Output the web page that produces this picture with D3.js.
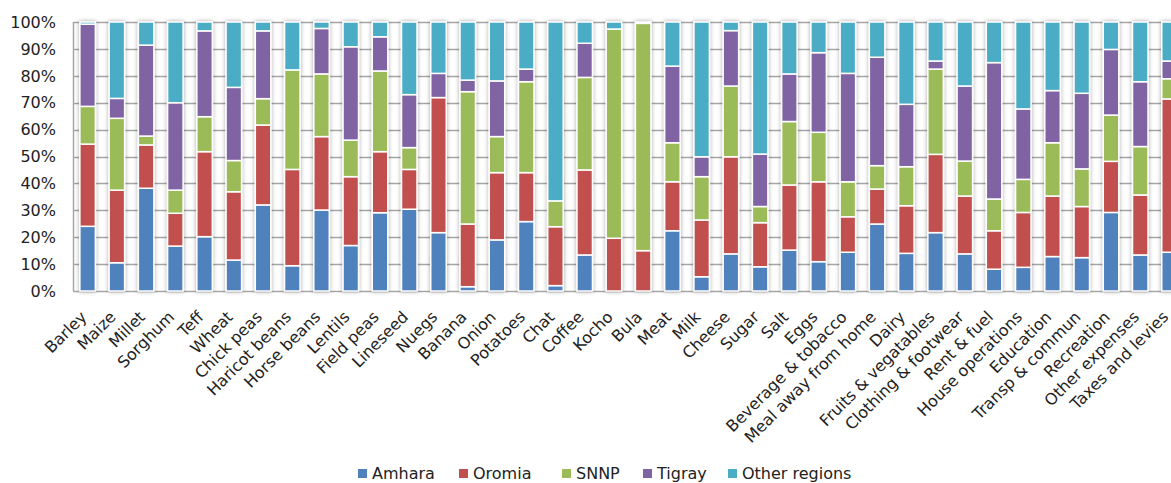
<!DOCTYPE html>
<html>
<head>
<meta charset="utf-8">
<script src="https://cdn.jsdelivr.net/npm/d3@7"></script>
<style>
  body { margin: 0; background: #fff; }
  svg { display: block; font-family: "DejaVu Sans", Verdana, sans-serif; }
</style>
</head>
<body>
<div id="chart"></div>
<script>
var categories = ["Barley", "Maize", "Millet", "Sorghum", "Teff", "Wheat", "Chick peas", "Haricot beans",
  "Horse beans", "Lentils", "Field peas", "Lineseed", "Nuegs", "Banana", "Onion", "Potatoes", "Chat",
  "Coffee", "Kocho", "Bula", "Meat", "Milk", "Cheese", "Sugar", "Salt", "Eggs", "Beverage & tobacco",
  "Meal away from home", "Dairy", "Fruits & vegatables", "Clothing & footwear", "Rent & fuel",
  "House operations", "Education", "Transp & commun", "Recreation", "Other expenses", "Taxes and levies"]

var amhara = [24, 10.5, 38.2, 16.7, 20.2, 11.5, 32, 9.4, 30.1, 16.9, 29.1, 30.4, 21.7, 1.6, 19, 25.8, 2,
  13.4, 0, 0, 22.4, 5.3, 13.8, 9, 15.2, 10.9, 14.4, 24.9, 14, 21.7, 13.8, 8.1, 8.8, 12.8, 12.4, 29.2, 13.4, 14.4]
var oromia = [30.5, 27, 16.1, 12.2, 31.6, 25.4, 29.7, 35.8, 27.3, 25.6, 22.7, 14.8, 50.2, 23.3, 25, 18.2, 21.9,
  31.6, 19.6, 15, 18.2, 21.1, 36.1, 16.4, 24.2, 29.7, 13.2, 13, 17.7, 29.1, 21.5, 14.3, 20.4, 22.5, 19, 19, 22.3, 57]
var snnp = [14, 26.7, 3.3, 8.6, 13, 11.6, 9.8, 37, 23.3, 13.6, 30, 8.1, 0, 49.2, 13.4, 33.8, 9.6,
  34.4, 77.8, 84.5, 14.5, 16.1, 26.3, 6, 23.6, 18.4, 13, 8.7, 14.5, 31.7, 13, 11.8, 12.3, 19.8, 14, 17.2, 18, 7.5]
var tigray = [30.5, 7.4, 33.8, 32.5, 31.9, 27.2, 25.2, 0, 16.9, 34.7, 12.7, 19.7, 9, 4.3, 20.7, 4.7, 0,
  12.7, 0, 0, 28.5, 7.4, 20.6, 19.5, 17.7, 29.6, 40.3, 40.3, 23.2, 3, 27.9, 50.7, 26.2, 19.4, 28.1, 24.4, 24.1, 6.6]
var otherRegions = [0.8, 28.4, 8.6, 30, 3.3, 24.3, 3.3, 17.8, 2.4, 9.2, 5.5, 27, 19.1, 21.6, 21.9, 17.5, 66.5,
  7.9, 2.6, 0.5, 16.4, 50.1, 3.2, 49.1, 19.3, 11.4, 19.1, 13.1, 30.6, 14.5, 23.8, 15.1, 32.3, 25.5, 26.5, 10.2, 22.2, 14.5]

var seriesNames = ["Amhara", "Oromia", "SNNP", "Tigray", "Other regions"]
var seriesValues = [amhara, oromia, snnp, tigray, otherRegions]
var colors = ["#4F81BD", "#C0504D", "#9BBB59", "#8064A2", "#4BACC6"]
var yTicks = [0, 0.1, 0.2, 0.3, 0.4, 0.5, 0.6, 0.7, 0.8, 0.9, 1]

var width = 1171
var height = 483
var margin = {top: 22, left: 73, bottom: 192}

// rows for the stack, each normalised to 100%
var rows = categories.map(function(c, i) {
  var row = {cat: c}
  var total = 0
  seriesNames.forEach(function(s, k) { total += seriesValues[k][i] })
  seriesNames.forEach(function(s, k) { row[s] = seriesValues[k][i] / total })
  return row
})

var stacked = d3.stack().keys(seriesNames)(rows)

var svg = d3.select("#chart").append("svg")
  .attr("width", width)
  .attr("height", height)

var defs = svg.append("defs")
var f = defs.append("filter").attr("id", "shadow")
  .attr("x", "-50%").attr("width", "200%").attr("y", "-5%").attr("height", "110%")
f.append("feDropShadow").attr("dx", 0).attr("dy", 0).attr("stdDeviation", 2.2)
  .attr("flood-color", "#000").attr("flood-opacity", 0.35)

var x = d3.scaleBand()
  .domain(categories)
  .range([margin.left, margin.left + 38 * 29.24])
  .paddingInner(0.47)
  .paddingOuter(0.235)

var y = d3.scaleLinear()
  .domain([0, 1])
  .range([height - margin.bottom, margin.top])

// horizontal grid
svg.append("g")
  .selectAll("line")
  .data(yTicks)
  .enter()
  .append("line")
  .attr("x1", margin.left)
  .attr("x2", width)
  .attr("y1", function(d) { return Math.round(y(d)) + 0.5 })
  .attr("y2", function(d) { return Math.round(y(d)) + 0.5 })
  .style("stroke", "#a6a6a6")
  .style("stroke-width", 1.5)

// axis line
svg.append("line")
  .attr("x1", margin.left + 0.5).attr("x2", margin.left + 0.5)
  .attr("y1", y(1)).attr("y2", y(0))
  .style("stroke", "#a6a6a6").style("stroke-width", 1.5)

// bars
var barG = svg.append("g").attr("filter", "url(#shadow)")
barG.selectAll("g")
  .data(stacked)
  .enter()
  .append("g")
  .attr("fill", function(d, i) { return colors[i] })
  .selectAll("rect")
  .data(function(d) { return d })
  .enter()
  .append("rect")
  .attr("x", function(d) { return x(d.data.cat) })
  .attr("width", x.bandwidth())
  .attr("y", function(d) { return y(d[1]) })
  .attr("height", function(d) { return Math.max(0, y(d[0]) - y(d[1])) })
  .style("stroke", "#fff")
  .style("stroke-width", 1.5)

// y tick labels
svg.append("g")
  .selectAll("text")
  .data(yTicks)
  .enter()
  .append("text")
  .attr("x", 56)
  .attr("y", function(d) { return y(d) })
  .attr("dy", "0.36em")
  .attr("text-anchor", "end")
  .style("font-size", "16px")
  .style("fill", "#222")
  .text(function(d) { return Math.round(d * 100) + "%" })

// x labels
svg.append("g")
  .selectAll("text")
  .data(categories)
  .enter()
  .append("text")
  .attr("transform", function(d) {
    return "translate(" + (x(d) + x.bandwidth() / 2 - 4) + "," + (y(0) + 23) + ") rotate(-45)"
  })
  .attr("text-anchor", "end")
  .attr("dy", "0.35em")
  .style("font-size", "16px")
  .style("fill", "#222")
  .text(function(d) { return d })

// legend
var legendX = [358, 459, 562, 643, 728]
var legend = svg.append("g")
seriesNames.forEach(function(s, k) {
  legend.append("rect")
    .attr("x", legendX[k]).attr("y", 469)
    .attr("width", 9).attr("height", 9)
    .attr("fill", colors[k])
  legend.append("text")
    .attr("x", legendX[k] + 14).attr("y", 479)
    .style("font-size", "16px")
    .style("fill", "#222")
    .text(s)
})
</script>
</body>
</html>
